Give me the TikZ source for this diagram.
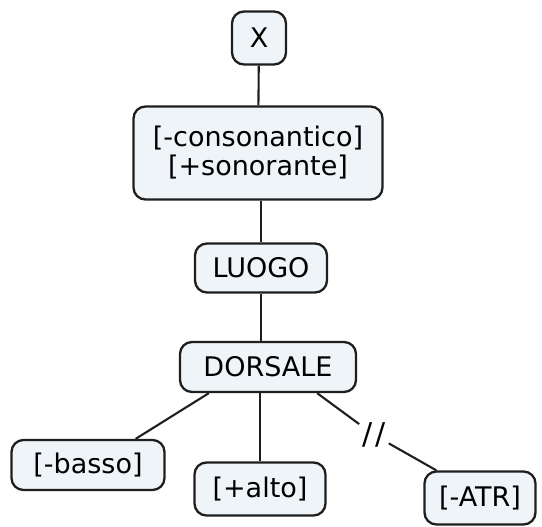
\documentclass[tikz,border=0pt]{standalone}
\usepackage{fontspec}
\setmainfont{DejaVu Sans}
\usetikzlibrary{positioning}

\definecolor{boxfill}{HTML}{EEF4F7}
\definecolor{boxline}{HTML}{1E1E1E}

\tikzset{
	concept/.style={draw=boxline, line width=2.3pt, fill=boxfill, rounded corners=12pt,
		font=\fontsize{27}{29}\selectfont, align=center, inner sep=0pt},
	link/.style={draw=boxline, line width=2.1pt},
	cut/.style={font=\fontsize{30}{32}\selectfont, inner sep=3pt}
}

\begin{document}
\begin{tikzpicture}[x=1pt, y=-1pt]
		\useasboundingbox (0,0) rectangle (542,527);

		% concepts, top to bottom
		\node[concept, minimum width=54pt, minimum height=53pt] (x) at (259,38) {X};
		\node[concept, minimum width=249pt, minimum height=93pt] (cons) at (258,153) {[-consonantico]\\{}[+sonorante]};
		\node[concept, minimum width=132pt, minimum height=49pt] (luogo) at (261,268) {LUOGO};
		\node[concept, minimum width=176pt, minimum height=50pt] (dorsale) at (268,367) {DORSALE};

		% dependents of DORSALE
		\node[concept, minimum width=153pt, minimum height=50pt] (basso) at (88,465) {[-basso]};
		\node[concept, minimum width=131pt, minimum height=53pt] (alto) at (260,489) {[+alto]};
		\node[concept, minimum width=111pt, minimum height=53pt] (atr) at (480,498) {[-ATR]};
		\node[cut] (brk) at (374,435) {/\kern3pt/};

		% links
		\draw[link] (x) -- (cons);
		\draw[link] (cons.south -| luogo) -- (luogo);
		\draw[link] (luogo) -- (dorsale.north -| luogo);
		\draw[link] ([xshift=30pt]dorsale.south west) -- ([xshift=-30pt]basso.north east);
		\draw[link] (dorsale.south -| alto) -- (alto);
		\draw[link] ([xshift=-40pt]dorsale.south east) -- (brk) -- ([xshift=13pt]atr.north west);
\end{tikzpicture}
\end{document}
